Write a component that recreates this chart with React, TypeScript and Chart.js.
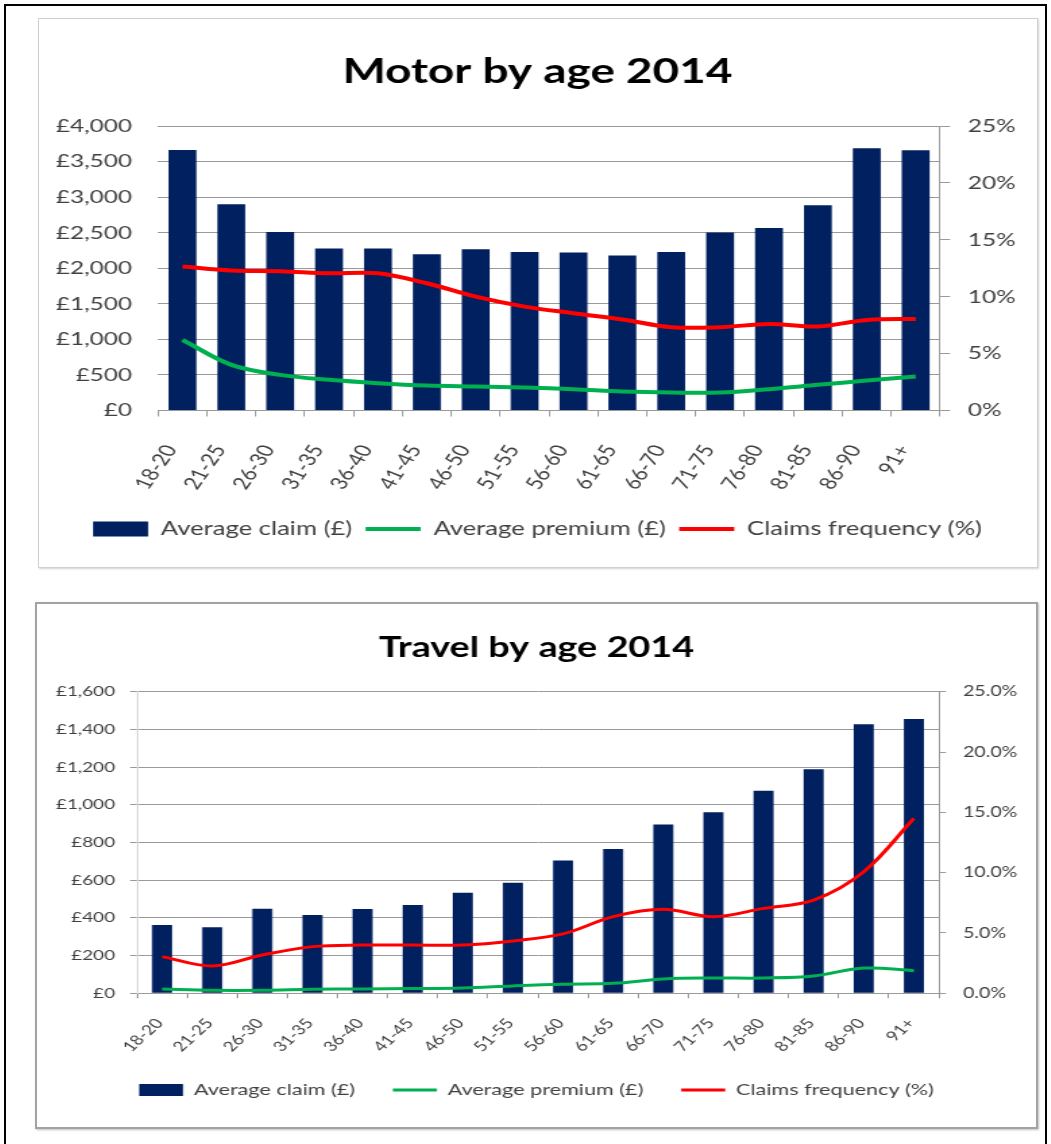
import React, { useEffect, useRef } from 'react';
import { Chart, registerables } from 'chart.js';

Chart.register(...registerables);

// ---------- data ----------
const ageBands = ['18-20', '21-25', '26-30', '31-35', '36-40', '41-45', '46-50', '51-55', '56-60', '61-65', '66-70', '71-75', '76-80', '81-85', '86-90', '91+'];

const motorTitle = 'Motor by age 2014';
const motorAverageClaim = [3663, 2899, 2510, 2276, 2276, 2197, 2267, 2230, 2220, 2178, 2230, 2501, 2567, 2885, 3686, 3658];
const motorAveragePremium = [993, 642, 501, 431, 384, 351, 337, 323, 300, 267, 253, 253, 300, 361, 421, 478];
const motorClaimsFrequency = [12.65, 12.3, 12.24, 12.06, 12.06, 11.18, 10.0, 9.13, 8.55, 8.0, 7.32, 7.32, 7.6, 7.38, 7.96, 8.05];

const travelTitle = 'Travel by age 2014';
const travelAverageClaim = [362, 350, 449, 415, 447, 468, 534, 587, 704, 766, 896, 960, 1075, 1188, 1427, 1455];
const travelAveragePremium = [23, 16, 16, 21, 23, 25, 28, 39, 48, 53, 76, 81, 81, 92, 134, 120];
const travelClaimsFrequency = [3.04, 2.27, 3.18, 3.87, 4.0, 4.0, 4.0, 4.34, 4.92, 6.35, 6.96, 6.35, 7.04, 7.73, 10.08, 14.5];

const seriesNames = ['Average claim (£)', 'Average premium (£)', 'Claims frequency (%)'];

// ---------- styles ----------
const FONT = 'Lato, "Open Sans", sans-serif';
const NAVY = '#002060';
const GREEN = '#00b050';
const RED = '#ff0000';
const TEXT = '#404040';
const GRID = '#9a9a9a';

type Spec = {
  title: string;
  claims: number[];
  premium: number[];
  freq: number[];
  left: number; top: number; cssW: number; canvasW: number; canvasH: number;
  titleSize: number; titlePadTop: number; titlePadBottom: number;
  yMax: number; yStep: number; y1Max: number; y1Step: number; y1Decimals: number;
  leftWidth: number; leftTickLen: number; leftPad: number; leftBorder: string | null;
  rightWidth: number; rightTickLen: number; rightPad: number;
  xHeight: number; xFont: number; xPad: number; rotation: number; xTickLen: number; xLabelOffset: number;
  yFont: number; y1Font: number;
  legendFont: number; legendBoxW: number; legendBoxH: number; legendPadBottom: number; legendItemPad: number;
  barPct: number; lineWidth: number;
};

function buildConfig(s: Spec): any {
  return {
    type: 'bar',
    data: {
      labels: ageBands,
      datasets: [
        {
          type: 'bar', label: seriesNames[0], data: s.claims, backgroundColor: NAVY,
          yAxisID: 'y', order: 3, barPercentage: s.barPct, categoryPercentage: 1,
        },
        {
          type: 'line', label: seriesNames[1], data: s.premium, borderColor: GREEN, backgroundColor: GREEN,
          borderWidth: s.lineWidth, pointRadius: 0, tension: 0.35, fill: false, yAxisID: 'y', order: 2,
        },
        {
          type: 'line', label: seriesNames[2], data: s.freq, borderColor: RED, backgroundColor: RED,
          borderWidth: s.lineWidth, pointRadius: 0, tension: 0.35, fill: false, yAxisID: 'y1', order: 1,
        },
      ],
    },
    options: {
      responsive: false,
      devicePixelRatio: 1,
      animation: false,
      events: [],
      layout: { padding: { top: 0, left: 0, right: 0, bottom: s.legendPadBottom } },
      plugins: {
        tooltip: { enabled: false },
        title: {
          display: true, text: s.title, color: '#000000',
          font: { family: FONT, size: s.titleSize, weight: 'bold' },
          padding: { top: s.titlePadTop, bottom: s.titlePadBottom },
        },
        legend: {
          display: true, position: 'bottom', align: 'center',
          labels: {
            usePointStyle: true, pointStyleWidth: s.legendBoxW, boxHeight: s.legendBoxH,
            font: { family: FONT, size: s.legendFont }, color: TEXT, padding: s.legendItemPad,
            generateLabels: () => [
              { text: seriesNames[0], fillStyle: NAVY, strokeStyle: NAVY, lineWidth: 0, pointStyle: 'rect', hidden: false, datasetIndex: 0, fontColor: TEXT },
              { text: seriesNames[1], fillStyle: GREEN, strokeStyle: GREEN, lineWidth: s.lineWidth, pointStyle: 'line', hidden: false, datasetIndex: 1, fontColor: TEXT },
              { text: seriesNames[2], fillStyle: RED, strokeStyle: RED, lineWidth: s.lineWidth, pointStyle: 'line', hidden: false, datasetIndex: 2, fontColor: TEXT },
            ],
          },
        },
      },
      scales: {
        x: {
          type: 'category', offset: true,
          grid: { offset: true, drawOnChartArea: false, drawTicks: true, tickLength: s.xTickLen, color: GRID },
          border: { display: true, color: GRID },
          ticks: {
            font: { family: FONT, size: s.xFont }, color: TEXT, autoSkip: false,
            minRotation: s.rotation, maxRotation: s.rotation, padding: s.xPad, labelOffset: s.xLabelOffset,
          },
          afterFit: (sc: any) => { sc.height = s.xHeight; },
        },
        y: {
          position: 'left', min: 0, max: s.yMax,
          ticks: {
            stepSize: s.yStep, font: { family: FONT, size: s.yFont }, color: TEXT, padding: s.leftPad,
            callback: (v: any) => '£' + Number(v).toLocaleString('en-GB'),
          },
          grid: { color: GRID, drawTicks: s.leftTickLen > 0, tickLength: s.leftTickLen },
          border: { display: !!s.leftBorder, color: s.leftBorder || GRID },
          afterFit: (sc: any) => { sc.width = s.leftWidth; },
        },
        y1: {
          position: 'right', min: 0, max: s.y1Max,
          ticks: {
            stepSize: s.y1Step, font: { family: FONT, size: s.y1Font }, color: TEXT, padding: s.rightPad,
            callback: (v: any) => Number(v).toFixed(s.y1Decimals) + '%',
          },
          grid: { drawOnChartArea: false, drawTicks: true, tickLength: s.rightTickLen, color: GRID },
          border: { display: true, color: GRID },
          afterFit: (sc: any) => { sc.width = s.rightWidth; },
        },
      },
    },
  };
}

const motorSpec: Spec = {
  title: motorTitle, claims: motorAverageClaim, premium: motorAveragePremium, freq: motorClaimsFrequency,
  left: 39, top: 19, cssW: 997, canvasW: 739, canvasH: 548,
  titleSize: 34, titlePadTop: 32.6, titlePadBottom: 33.6,
  yMax: 4000, yStep: 500, y1Max: 25, y1Step: 5, y1Decimals: 0,
  leftWidth: 88.2, leftTickLen: 0, leftPad: 19.3, leftBorder: null,
  rightWidth: 71.1, rightTickLen: 7.4, rightPad: 13.3,
  xHeight: 99, xFont: 17.5, xPad: 25, rotation: 62, xTickLen: 6, xLabelOffset: -8.5,
  yFont: 18, y1Font: 18,
  legendFont: 19, legendBoxW: 40.8, legendBoxH: 15, legendPadBottom: 18.5, legendItemPad: 10,
  barPct: 0.57, lineWidth: 4,
};

const travelSpec: Spec = {
  title: travelTitle, claims: travelAverageClaim, premium: travelAveragePremium, freq: travelClaimsFrequency,
  left: 37, top: 604, cssW: 999, canvasW: 740, canvasH: 522,
  titleSize: 28, titlePadTop: 27.2, titlePadBottom: 26.9,
  yMax: 1600, yStep: 200, y1Max: 25, y1Step: 5, y1Decimals: 1,
  leftWidth: 74.1, leftTickLen: 5.2, leftPad: 11.1, leftBorder: '#d9d9d9',
  rightWidth: 71.9, rightTickLen: 5.2, rightPad: 12.6,
  xHeight: 60.7, xFont: 14, xPad: 17, rotation: 50, xTickLen: 5, xLabelOffset: -2,
  yFont: 14, y1Font: 14.5,
  legendFont: 16, legendBoxW: 32.6, legendBoxH: 12, legendPadBottom: 18, legendItemPad: 28,
  barPct: 0.4, lineWidth: 3,
};

function ComboChart({ spec }: { spec: Spec }) {
  const ref = useRef<HTMLCanvasElement>(null);
  useEffect(() => {
    const canvas = ref.current;
    if (!canvas) return;
    const chart = new Chart(canvas, buildConfig(spec));
    return () => chart.destroy();
  }, [spec]);
  return (
    <canvas
      ref={ref}
      width={spec.canvasW}
      height={spec.canvasH}
      style={{ position: 'absolute', left: spec.left, top: spec.top, width: spec.cssW, height: spec.canvasH, display: 'block' }}
    />
  );
}

export default function App() {
  return (
    <div style={{ position: 'absolute', left: 0, top: 0, width: 1051, height: 1144, background: '#ffffff', overflow: 'hidden' }}>
      <div style={{ position: 'absolute', left: 4, top: 4, width: 1043, height: 1140, boxSizing: 'border-box', borderLeft: '2px solid #000', borderTop: '2px solid #000', borderRight: '2px solid #000' }} />
      <div style={{ position: 'absolute', left: 38, top: 18, width: 1000, height: 550, boxSizing: 'border-box', border: '1px solid #d0d0d0', boxShadow: '1px 1px 2px rgba(0,0,0,0.18)', background: '#fff' }} />
      <div style={{ position: 'absolute', left: 35, top: 602, width: 1003, height: 527, boxSizing: 'border-box', border: '2px solid #a3a3a3', boxShadow: '1px 1px 2px rgba(0,0,0,0.25)', background: '#fff' }} />
      <ComboChart spec={motorSpec} />
      <ComboChart spec={travelSpec} />
    </div>
  );
}
